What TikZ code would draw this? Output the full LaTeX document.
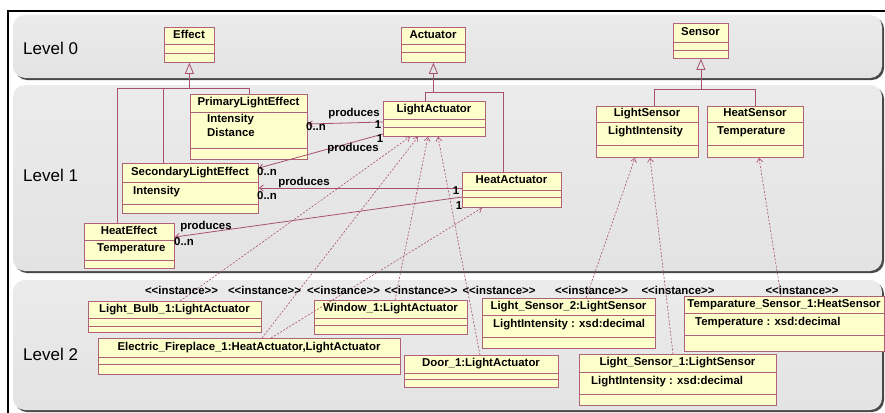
\documentclass[tikz,border=0pt]{standalone}
\usepackage{fontspec}
\setmainfont{Liberation Sans}
\usetikzlibrary{arrows.meta,calc}
\definecolor{bandgray}{HTML}{E3E3E3}
\definecolor{bandtop}{HTML}{EBEBEB}
\definecolor{shadowgray}{HTML}{484848}
\definecolor{boxfill}{HTML}{FFFFCC}
\definecolor{boxline}{HTML}{B0607A}
\definecolor{conn}{HTML}{A8506E}
\tikzset{
  umlbox/.style={draw=boxline, fill=boxfill, line width=0.8pt, inner sep=0pt, anchor=north west},
  txt/.style={font=\fontsize{11.4}{13}\selectfont\bfseries, inner sep=0pt, text height=8.2pt, text depth=2.3pt},
  attr/.style={txt, anchor=west},
  lvl/.style={font=\fontsize{17}{19}\selectfont, inner sep=0pt, anchor=west},
  gen/.style={draw=conn, line width=0.8pt},
  genhead/.style={draw=conn, line width=0.8pt, -{Triangle[open,width=9pt,length=11pt]}},
  assoc/.style={draw=conn, line width=0.8pt, -{Straight Barb[length=4pt,width=6pt]}},
  dep/.style={draw=conn, line width=0.6pt, dash pattern=on 2pt off 1.6pt, -{Straight Barb[length=4pt,width=6pt]}},
  divider/.style={draw=boxline, line width=0.8pt},
}
% name, x1, y1, x2, y2, d1, d2, title
\newcommand{\umlcls}[8]{%
  \node[umlbox, minimum width={(#4-#2)*1pt}, minimum height={(#5-#3)*1pt}] (#1) at (#2,#3) {};
  \draw[divider] (#2,#6) -- (#4,#6) (#2,#7) -- (#4,#7);
  \node[txt] (#1-t) at ({(#2+#4)/2},{(#3+#6)/2}) {#8};
}
\newcommand{\inst}{<\kern0pt<instance>\kern0pt>}
\begin{document}
\begin{tikzpicture}[x=1pt,y=-1pt]
\useasboundingbox (0,0) rectangle (885,412);
\fill[white] (0,0) rectangle (885,412);
% frame
\draw[black, line width=2.5pt] (8,413) -- (8,11) -- (886,11);
% bands
\foreach \ya/\yb in {15/78, 85/271, 280/410}{
  \fill[shadowgray, rounded corners=12pt] (15,\ya+2) rectangle (884,\yb+2);
  \shade[top color=bandtop, bottom color=bandgray, rounded corners=12pt] (13,\ya) rectangle (882,\yb);
}
\node[lvl] (lv0) at (23,48) {Level 0};
\node[lvl] (lv1) at (23,175) {Level 1};
\node[lvl] (lv2) at (23,354) {Level 2};

% Level 0
\umlcls{effect}{164}{27}{214}{62}{44}{53}{Effect}
\umlcls{actuator}{401}{27}{465}{62}{44}{52}{Actuator}
\umlcls{sensor}{673}{23}{728}{58}{42}{50}{Sensor}

% Level 1
\umlcls{pleff}{190}{94}{307}{159}{112}{148}{PrimaryLightEffect}
\node[attr] (pleff-a1) at (207,120) {Intensity};
\node[attr] (pleff-a2) at (207,134) {Distance};
\umlcls{sleff}{122}{163}{258}{213}{182}{204}{SecondaryLightEffect}
\node[attr] (sleff-a1) at (133,192) {Intensity};
\umlcls{heff}{84}{223}{174}{268}{240}{260}{HeatEffect}
\node[attr] (heff-a1) at (97,249) {Temperature};
\umlcls{la}{383}{101}{485}{136}{119}{127}{LightActuator}
\umlcls{ha}{462}{172}{561}{207}{190}{197}{HeatActuator}
\umlcls{ls}{596}{106}{698}{157}{122}{145}{LightSensor}
\node[attr] (ls-a1) at (608,132) {LightIntensity};
\umlcls{hs}{707}{106}{803}{157}{122}{145}{HeatSensor}
\node[attr] (hs-a1) at (717,132) {Temperature};

% Level 2
\umlcls{lb1}{88}{301}{261}{332}{318}{326}{Light\_Bulb\_1:LightActuator}
\umlcls{ef1}{98}{338}{400}{374}{357}{364}{Electric\_Fireplace\_1:HeatActuator,LightActuator}
\umlcls{w1}{314}{300}{467}{334}{318}{325}{Window\_1:LightActuator}
\umlcls{d1}{404}{355}{558}{387}{373}{379}{Door\_1:LightActuator}
\umlcls{ls2}{482}{298}{655}{348}{315}{337}{Light\_Sensor\_2:LightSensor}
\node[attr] (ls2-a1) at (493,325) {LightIntensity : xsd:decimal};
\umlcls{ls1}{579}{354}{776}{405}{372}{394}{Light\_Sensor\_1:LightSensor}
\node[attr] (ls1-a1) at (591,382) {LightIntensity : xsd:decimal};
\umlcls{ts1}{684}{296}{884}{351}{313}{335}{Temparature\_Sensor\_1:HeatSensor}
\node[attr] (ts1-a1) at (695,323) {Temperature : xsd:decimal};

% generalizations
\coordinate (ej) at ($(effect.south)+(0,26)$);
\coordinate (aj) at ($(actuator.south)+(0,30)$);
\coordinate (sj) at ($(sensor.south)+(0,31)$);
\coordinate (he-top) at ($(heff.north west)+(33,0)$);
\coordinate (sl-top) at ($(sleff.north west)+(41,0)$);
\coordinate (pl-top) at ($(pleff.north west)+(59,0)$);
\coordinate (la-top) at ($(la.north west)+(42,0)$);
\coordinate (ha-top) at ($(ha.north west)+(41,0)$);
\coordinate (ls-top) at ($(ls.north west)+(58,0)$);
\coordinate (hs-top) at ($(hs.north)$);
\draw[gen] (he-top) |- (ej) -| (pl-top);
\draw[gen] (sl-top) -- (sl-top |- ej);
\draw[genhead] (ej) -- (effect.south);
\draw[gen] (la-top) |- (aj) -| (ha-top);
\draw[genhead] (aj) -- (actuator.south);
\draw[gen] (ls-top) |- (sj) -| (hs-top);
\draw[genhead] (sj) -- (sensor.south);

% associations
\draw[assoc] ($(la.north west)+(0,21)$) -- ($(pleff.north east)+(0,30)$);
\draw[assoc] ($(la.north west)+(0,33)$) -- ($(sleff.north east)+(0,5)$);
\draw[assoc] ($(ha.north west)+(0,16)$) -- ($(sleff.north east)+(0,25)$);
\draw[assoc] ($(ha.north west)+(0,25)$) -- ($(heff.north east)+(0,14)$);
\node[txt] (p1) at (354,114) {produces};
\node[txt] (m1) at (378,126) {1};
\node[txt] (n1) at (316,128) {0..n};
\node[txt] (p2) at (353,149) {produces};
\node[txt] (m2) at (380,140) {1};
\node[txt] (n2) at (267,173) {0..n};
\node[txt] (p3) at (304,183) {produces};
\node[txt] (m3) at (456,192) {1};
\node[txt] (n3) at (267,197) {0..n};
\node[txt] (p4) at (206,227) {produces};
\node[txt] (m4) at (459,207) {1};
\node[txt] (n4) at (184,243) {0..n};

% instance dependencies
\draw[dep] ($(lb1.north west)+(92,0)$) -- ($(la.south west)+(27,0)$);
\draw[dep] ($(ef1.north west)+(164,0)$) -- ($(la.south west)+(35,0)$);
\draw[dep] ($(ef1.north west)+(173,0)$) -- ($(ha.south west)+(20,0)$);
\draw[dep] ($(w1.north west)+(81,0)$) -- ($(la.south west)+(45,0)$);
\draw[dep] ($(d1.north west)+(76,0)$) -- ($(la.south west)+(55,0)$);
\draw[dep] ($(ls2.north west)+(104,0)$) -- ($(ls.south west)+(39,0)$);
\draw[dep] ($(ls1.north west)+(94,0)$) -- ($(ls.south west)+(54,0)$);
\draw[dep] ($(ts1.north west)+(97,0)$) -- ($(hs.south west)+(52,0)$);
\node[txt] (i1) at (181.5,292) {\inst};
\node[txt] (i2) at (264.5,292) {\inst};
\node[txt] (i3) at (343.5,292) {\inst};
\node[txt] (i4) at (421,292) {\inst};
\node[txt] (i5) at (499,292) {\inst};
\node[txt] (i6) at (591.5,292) {\inst};
\node[txt] (i7) at (678,292) {\inst};
\node[txt] (i8) at (802,292) {\inst};
\end{tikzpicture}
\end{document}
